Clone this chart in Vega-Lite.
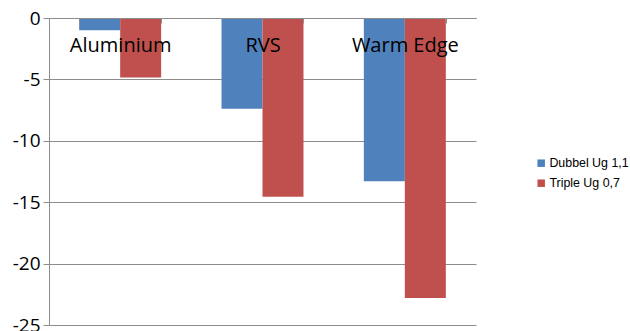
{
  "$schema": "https://vega.github.io/schema/vega-lite/v6.json",
  "autosize": {"type": "none"},
  "width": 427,
  "height": 307,
  "padding": {"left": 49, "top": 18, "right": 154, "bottom": 6},
  "background": "white",
  "data": {
    "values": [
      {"material": "Aluminium", "series": "Dubbel Ug 1,1", "value": -1.0},
      {"material": "Aluminium", "series": "Triple Ug 0,7", "value": -4.85},
      {"material": "RVS", "series": "Dubbel Ug 1,1", "value": -7.4},
      {"material": "RVS", "series": "Triple Ug 0,7", "value": -14.55},
      {"material": "Warm Edge", "series": "Dubbel Ug 1,1", "value": -13.3},
      {"material": "Warm Edge", "series": "Triple Ug 0,7", "value": -22.8}
    ]
  },
  "mark": {"type": "bar"},
  "encoding": {
    "x": {
      "field": "material",
      "type": "nominal",
      "sort": null,
      "title": null,
      "scale": {"paddingInner": 0.424, "paddingOuter": 0.212},
      "axis": {
        "orient": "top",
        "zindex": 1,
        "labelAngle": 0,
        "labelFont": "Open Sans",
        "labelFontSize": 20,
        "labelColor": "#000000",
        "labelBaseline": "alphabetic",
        "labelPadding": -28,
        "labelLimit": 0,
        "tickBand": "extent",
        "tickSize": -5,
        "tickColor": "#8c8c8c",
        "domainColor": "#8c8c8c",
        "grid": false
      }
    },
    "xOffset": {"field": "series", "type": "nominal", "scale": {"paddingInner": 0, "paddingOuter": 0}},
    "y": {
      "field": "value",
      "type": "quantitative",
      "title": null,
      "scale": {"domain": [-25, 0], "nice": false, "zero": false},
      "axis": {
        "values": [0, -5, -10, -15, -20, -25],
        "labelExpr": "'' + datum.value",
        "labelFont": "Open Sans",
        "labelFontSize": 19,
        "labelColor": "#000000",
        "labelPadding": 3,
        "tickSize": 6,
        "tickColor": "#8c8c8c",
        "domainColor": "#8c8c8c",
        "gridColor": "#8c8c8c",
        "gridOpacity": 1,
        "labelOverlap": false,
        "labelBound": false,
        "labelFlush": false
      }
    },
    "color": {
      "field": "series",
      "type": "nominal",
      "scale": {"domain": ["Dubbel Ug 1,1", "Triple Ug 0,7"], "range": ["#4F81BD", "#C0504D"]},
      "legend": {
        "title": null,
        "orient": "none",
        "legendX": 486,
        "legendY": 139,
        "symbolType": "square",
        "symbolSize": 56,
        "symbolStrokeWidth": 0,
        "symbolOpacity": 1,
        "labelFont": "Liberation Sans",
        "labelFontSize": 12.4,
        "labelColor": "#000000",
        "labelOffset": 2,
        "labelLimit": 0,
        "rowPadding": 7
      }
    }
  },
  "config": {"view": {"stroke": null}}
}
